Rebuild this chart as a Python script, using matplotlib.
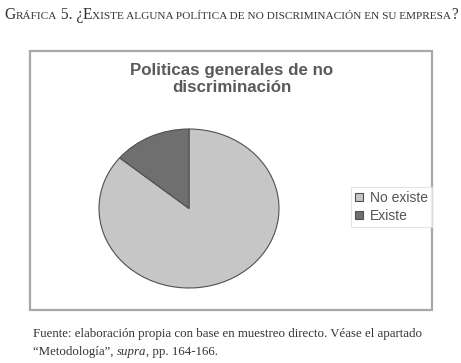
import matplotlib
matplotlib.use("Agg")
import matplotlib.pyplot as plt
from matplotlib.patches import Rectangle

# data
labels = ["No existe", "Existe"]
values = [86, 14]
colors = ["#c6c6c6", "#6f6f6f"]

chart_title = "Politicas generales de no\ndiscriminación"
header_runs = [("G", "big"), ("RÁFICA", "small"), (" 5. ¿", "big"), ("E", "big"),
               ("XISTE ALGUNA POLÍTICA DE NO DISCRIMINACIÓN EN SU EMPRESA", "small"),
               ("?", "big")]
footer_1 = "Fuente: elaboración propia con base en muestreo directo. Véase el apartado"
footer_2 = [("“Metodología”, ", "normal"), ("supra", "italic"), (", pp. 164-166.", "normal")]

W, H = 461, 363
fig = plt.figure(figsize=(W / 100, H / 100), dpi=100)
fig.patch.set_facecolor("white")
renderer = fig.canvas.get_renderer()


def px(x, y):
    return x / W, 1 - y / H


# sequential text runs in pixel positions
def runs(x, y, parts, sizes, styles=None, color="#333333"):
    for txt, kind in parts:
        style = "normal"
        if styles is not None:
            style = styles.get(kind, "normal")
        t = fig.text(*px(x, y), txt, fontsize=sizes[kind], family="Liberation Serif",
                     style=style, color=color, va="baseline", ha="left")
        bb = t.get_window_extent(renderer)
        x += bb.width


runs(4, 19, header_runs, {"big": 11.2, "small": 8.1})

# chart frame
fig.patches.append(Rectangle(px(30, 310), 402 / W, 259 / H, transform=fig.transFigure,
                             fill=False, edgecolor="#a8a8a8", linewidth=1.6))

fig.text(*px(232, 79), chart_title, ha="center", va="center", fontsize=12.2,
         fontweight="bold", family="Liberation Sans", color="#5a5a5a", linespacing=1.12)

ax = fig.add_axes([99 / W, 1 - 288 / H, 180 / W, 159 / H])
wedges, _ = ax.pie(values, colors=colors, startangle=90, counterclock=False,
                   wedgeprops=dict(edgecolor="#505050", linewidth=0.8))
ax.set_aspect("auto")
ax.set_xlim(-1, 1)
ax.set_ylim(-1, 1)
ax.axis("off")

leg = fig.legend(wedges, labels, loc="upper left", bbox_to_anchor=px(351, 187),
                 borderaxespad=0, frameon=True, fancybox=False, handlelength=0.55,
                 handleheight=0.55, handletextpad=0.5, borderpad=0.3, labelspacing=0.25,
                 labelcolor="#555555", prop={"family": "Liberation Sans", "size": 10})
leg.get_frame().set_edgecolor("#dddddd")
leg.get_frame().set_linewidth(0.8)

fig.text(*px(33, 337), footer_1, fontsize=9.3, family="Liberation Serif",
         color="#333333", va="baseline")
runs(33, 355, footer_2, {"normal": 9.3, "italic": 9.3}, {"italic": "italic"})

fig.savefig("out.png", dpi=100)
